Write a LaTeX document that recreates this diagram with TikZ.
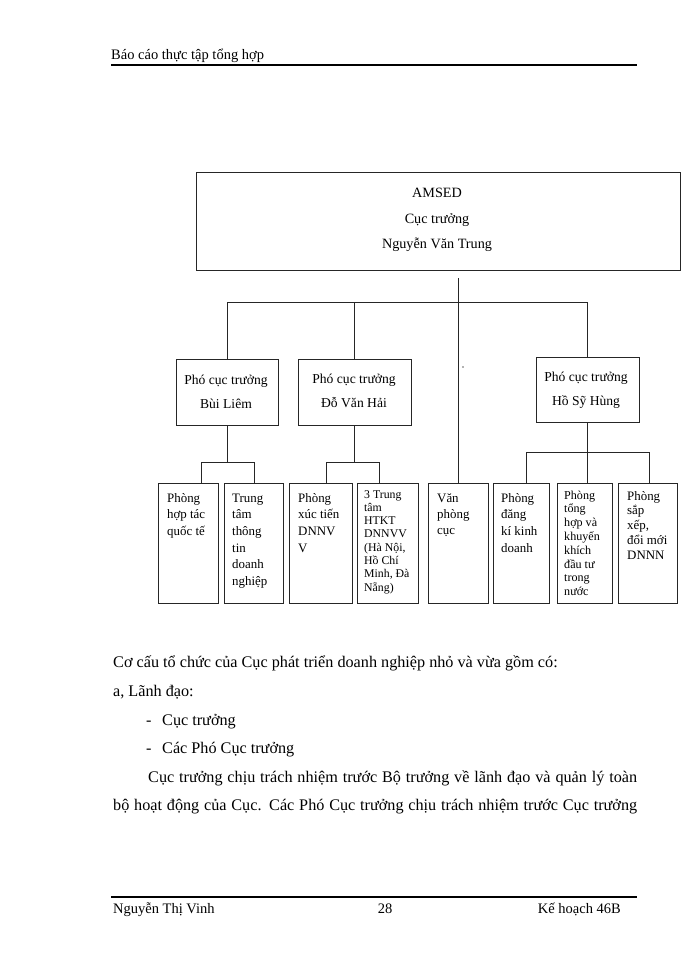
\documentclass[tikz,border=0pt]{standalone}
\usepackage{fontspec}
\setmainfont{Liberation Serif}
\usetikzlibrary{calc}
\newcommand{\fsHead}{\fontsize{14.5}{17}\selectfont}
\newcommand{\fsBody}{\fontsize{16.2}{19}\selectfont}
\newcommand{\fsTop}{\fontsize{14.2}{17}\selectfont}
\newcommand{\fsPho}{\fontsize{13.6}{16}\selectfont}
\newcommand{\fsLeaf}{\fontsize{12.9}{16.7}\selectfont}
\newcommand{\fsLeafVp}{\fontsize{12.9}{16}\selectfont}
\newcommand{\fsLeafS}{\fontsize{11.8}{13.3}\selectfont}
\newcommand{\fsLeafT}{\fontsize{12.1}{13.8}\selectfont}
\newcommand{\fsLeafX}{\fontsize{12.9}{14.8}\selectfont}
\begin{document}
\begin{tikzpicture}[x=1pt,y=-1pt,
  orgbox/.style={draw=black!85, line width=0.9pt, rectangle, inner sep=0pt},
  link/.style={draw=black!85, line width=0.9pt},
  rulebar/.style={draw=black, line width=1.6pt},
  txt/.style={inner sep=0pt, anchor=base west},
  ctxt/.style={inner sep=0pt, anchor=base},
  leaftxt/.style={inner sep=0pt, anchor=base west}]
\useasboundingbox (0,0) rectangle (700,960);
\fill[white] (0,0) rectangle (700,960);

% header / footer
\node[txt] (hd) at (111,60) {\fsHead Báo cáo thực tập tổng hợp};
\coordinate (hl) at (111,65);
\coordinate (hr) at (637,65);
\draw[rulebar] (hl) -- (hr);
\coordinate (fl) at (111,897);
\coordinate (fr) at (637,897);
\draw[rulebar] (fl) -- (fr);
\node[txt] (ft1) at (113,913) {\fsHead Nguyễn Thị Vinh};
\node[ctxt] (ft2) at (385,913) {\fsHead 28};
\node[inner sep=0pt, anchor=base east] (ft3) at (621,913) {\fsHead Kế hoạch 46B};

% boxes
\node[orgbox, minimum width=484pt, minimum height=98pt] (top) at (438,221) {};
\node[ctxt] (tt1) at (437,197) {\fsTop AMSED};
\node[ctxt] (tt2) at (437,223) {\fsTop Cục trưởng};
\node[ctxt] (tt3) at (437,248) {\fsTop Nguyễn Văn Trung};

\node[orgbox, minimum width=102pt, minimum height=66pt] (p1) at (227,392) {};
\node[ctxt] (p1a) at (226,384) {\fsPho Phó cục trưởng};
\node[ctxt] (p1b) at (226,408) {\fsPho Bùi Liêm};
\node[orgbox, minimum width=113pt, minimum height=66pt] (p2) at (354.5,392) {};
\node[ctxt] (p2a) at (354,383) {\fsPho Phó cục trưởng};
\node[ctxt] (p2b) at (354,407) {\fsPho Đỗ Văn Hải};
\node[orgbox, minimum width=103pt, minimum height=65pt] (p4) at (587.5,389.5) {};
\node[ctxt] (p4a) at (586,381) {\fsPho Phó cục trưởng};
\node[ctxt] (p4b) at (586,405) {\fsPho Hồ Sỹ Hùng};

\node[orgbox, minimum width=60pt, minimum height=120pt] (l1) at (188,543) {};
\node[orgbox, minimum width=59pt, minimum height=120pt] (l2) at (253.5,543) {};
\node[orgbox, minimum width=63pt, minimum height=120pt] (l3) at (320.5,543) {};
\node[orgbox, minimum width=61pt, minimum height=120pt] (l4) at (387.5,543) {};
\node[orgbox, minimum width=60pt, minimum height=120pt] (vp) at (458,543) {};
\node[orgbox, minimum width=56pt, minimum height=120pt] (l6) at (521,543) {};
\node[orgbox, minimum width=55pt, minimum height=120pt] (l7) at (584.5,543) {};
\node[orgbox, minimum width=59pt, minimum height=120pt] (l8) at (647.5,543) {};

\node[leaftxt] (tl1) at (167,502) {\parbox[t]{50pt}{\raggedright\fsLeaf Phòng\\hợp tác\\quốc tế}};
\node[leaftxt] (tl2) at (232,502) {\parbox[t]{50pt}{\raggedright\fsLeaf Trung\\tâm\\thông\\tin\\doanh\\nghiệp}};
\node[leaftxt] (tl3) at (298,502) {\parbox[t]{52pt}{\raggedright\fsLeaf Phòng\\xúc tiến\\DNNV\\V}};
\node[leaftxt] (tl4) at (364,498) {\parbox[t]{52pt}{\raggedright\fsLeafS 3 Trung\\tâm\\HTKT\\DNNVV\\(Hà Nội,\\Hồ Chí\\Minh, Đà\\Nẵng)}};
\node[leaftxt] (tvp) at (437,502) {\parbox[t]{48pt}{\raggedright\fsLeafVp Văn\\phòng\\cục}};
\node[leaftxt] (tl6) at (501,502) {\parbox[t]{46pt}{\raggedright\fsLeaf Phòng\\đăng\\kí kinh\\doanh}};
\node[leaftxt] (tl7) at (564,499) {\parbox[t]{46pt}{\raggedright\fsLeafT Phòng\\tổng\\hợp và\\khuyến\\khích\\đầu tư\\trong\\nước}};
\node[leaftxt] (tl8) at (627,500) {\parbox[t]{48pt}{\raggedright\fsLeafX Phòng\\sắp\\xếp,\\đổi mới\\DNNN}};

% connectors
\coordinate (mtop) at (458,278);
\draw[link] (mtop) -- (vp.north);
\coordinate (busL) at (227,302);
\coordinate (busR) at (587.5,302);
\draw[link] (busL) -- (busR);
\draw[link] (busL) -- (p1.north);
\draw[link] (p2.north |- busL) -- (p2.north);
\draw[link] (busR) -- (p4.north);

\coordinate (j1L) at (201,462);
\coordinate (j1R) at (254,462);
\draw[link] (p1.south) -- (p1.south |- j1L);
\draw[link] (j1L |- l1.north) -- (j1L) -- (j1R) -- (j1R |- l2.north);

\coordinate (j2L) at (326,462);
\coordinate (j2R) at (379,462);
\draw[link] (p2.south) -- (p2.south |- j2L);
\draw[link] (j2L |- l3.north) -- (j2L) -- (j2R) -- (j2R |- l4.north);

\coordinate (j4L) at (526,452);
\coordinate (j4R) at (649,452);
\draw[link] (p4.south) -- (p4.south |- l7.north);
\draw[link] (j4L |- l6.north) -- (j4L) -- (j4R) -- (j4R |- l8.north);

\fill[black!60] (463,367) circle (0.8pt);

% body text
\node[txt] (b1) at (113,667) {\fsBody Cơ cấu tổ chức của Cục phát triển doanh nghiệp nhỏ và vừa gồm có:};
\node[txt] (b2) at (113,696) {\fsBody a, Lãnh đạo:};
\node[txt] (b3d) at (146,725) {\fsBody -};
\node[txt] (b3) at (162,725) {\fsBody Cục trưởng};
\node[txt] (b4d) at (146,753) {\fsBody -};
\node[txt] (b4) at (162,753) {\fsBody Các Phó Cục trưởng};
\node[txt] (b5) at (148,782) {\fsBody\makebox[489pt][s]{Cục trưởng chịu trách nhiệm trước Bộ trưởng về lãnh đạo và quản lý toàn}};
\node[txt] (b6) at (113,810) {\fsBody\makebox[524pt][s]{bộ hoạt động của Cục. Các Phó Cục trưởng chịu trách nhiệm trước Cục trưởng}};
\end{tikzpicture}
\end{document}
